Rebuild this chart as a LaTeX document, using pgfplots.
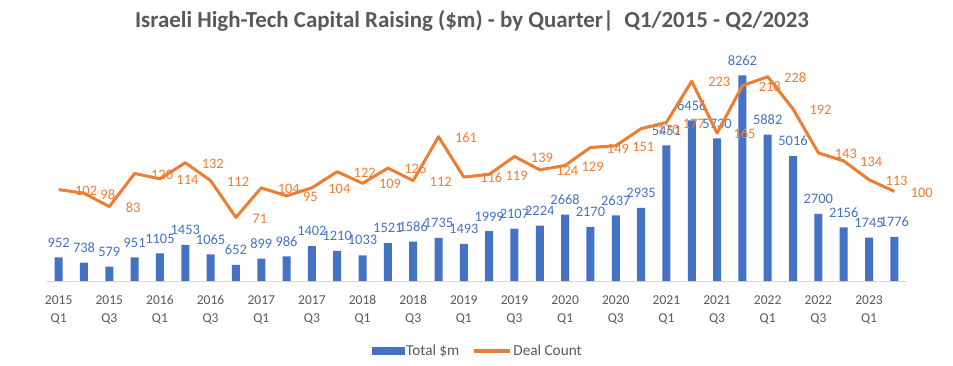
\documentclass[border=0pt]{standalone}
\usepackage{fontspec}
\setmainfont{Carlito}
\usepackage{pgfplots}
\usepackage{pgfplotstable}
\pgfplotsset{compat=1.18}
\definecolor{cblue}{HTML}{4472C4}
\definecolor{corange}{HTML}{ED7D31}
\definecolor{cgray}{HTML}{595959}
\definecolor{caxis}{HTML}{D9D9D9}

\pgfplotstableread{
idx total deals
0 952 102
1 738 98
2 579 83
3 951 120
4 1105 114
5 1453 132
6 1065 112
7 652 71
8 899 104
9 986 95
10 1402 104
11 1210 122
12 1033 109
13 1521 126
14 1586 112
15 1735 161
16 1493 116
17 1999 119
18 2107 139
19 2224 124
20 2668 129
21 2170 149
22 2637 151
23 2935 170
24 5451 177
25 6456 223
26 5730 165
27 8262 218
28 5882 228
29 5016 192
30 2700 143
31 2156 134
32 1745 113
33 1776 100
}\datatable

\begin{document}
\begin{tikzpicture}
\useasboundingbox (0,0) rectangle (953bp,366bp);
\node[font=\fontsize{23}{27}\selectfont\bfseries, text=cgray] at (472bp,345bp) {Israeli High-Tech Capital Raising (\$m) - by Quarter|\ \ Q1/2015 - Q2/2023};

\begin{axis}[
  at={(46bp,85bp)}, anchor=south west,
  scale only axis, width=861bp, height=224bp,
  xmin=-0.5, xmax=33.5, ymin=0, ymax=9000,
  axis x line*=bottom, axis y line=none,
  x axis line style={draw=caxis, line width=0.75bp, -},
  xtick={0,2,...,32},
  xticklabels={{2015\\Q1},{2015\\Q3},{2016\\Q1},{2016\\Q3},{2017\\Q1},{2017\\Q3},{2018\\Q1},{2018\\Q3},{2019\\Q1},{2019\\Q3},{2020\\Q1},{2020\\Q3},{2021\\Q1},{2021\\Q3},{2022\\Q1},{2022\\Q3},{2023\\Q1}},
  major tick length=0,
  xticklabel style={align=center, text=cgray, font=\fontsize{13.6}{18}\selectfont, yshift=-11bp},
  clip=false,
  /pgf/number format/1000 sep={},
  /pgf/number format/assume math mode=true,
]
\addplot[ybar, bar width=8bp, bar shift=0pt, fill=cblue, draw=none,
  nodes near coords,
  every node near coord/.append style={anchor=south, inner sep=0pt, yshift=10bp, text=cblue, font=\fontsize{14.5}{16}\selectfont}]
  table[x=idx, y=total] {\datatable};
\end{axis}

\begin{axis}[
  at={(46bp,85bp)}, anchor=south west,
  scale only axis, width=861bp, height=224bp,
  xmin=-0.5, xmax=33.5, ymin=0, ymax=250,
  hide axis,
  clip=false,
  /pgf/number format/1000 sep={},
  /pgf/number format/assume math mode=true,
  legend columns=2,
  legend style={at={(0.5015,-0.3125)}, anchor=center, draw=none, fill=none,
    font=\fontsize{15.3}{18}\selectfont, text=cgray,
    /tikz/every even column/.append style={column sep=11bp}},
]
\addlegendimage{legend image code/.code={\fill[cblue] (0bp,-3.5bp) rectangle (32bp,3.5bp);}}
\addlegendentry{Total \$m}
\addplot[corange, line width=3bp, line join=round, mark=none,
  legend image code/.code={\draw[corange, line width=3bp] (0bp,0bp) -- (36bp,0bp);},
  nodes near coords,
  every node near coord/.append style={anchor=west, inner sep=0pt, xshift=15bp, yshift=-1bp, text=corange, font=\fontsize{14.5}{16}\selectfont}]
  table[x=idx, y=deals] {\datatable};
\addlegendentry{Deal Count}
\end{axis}
\end{tikzpicture}
\end{document}
